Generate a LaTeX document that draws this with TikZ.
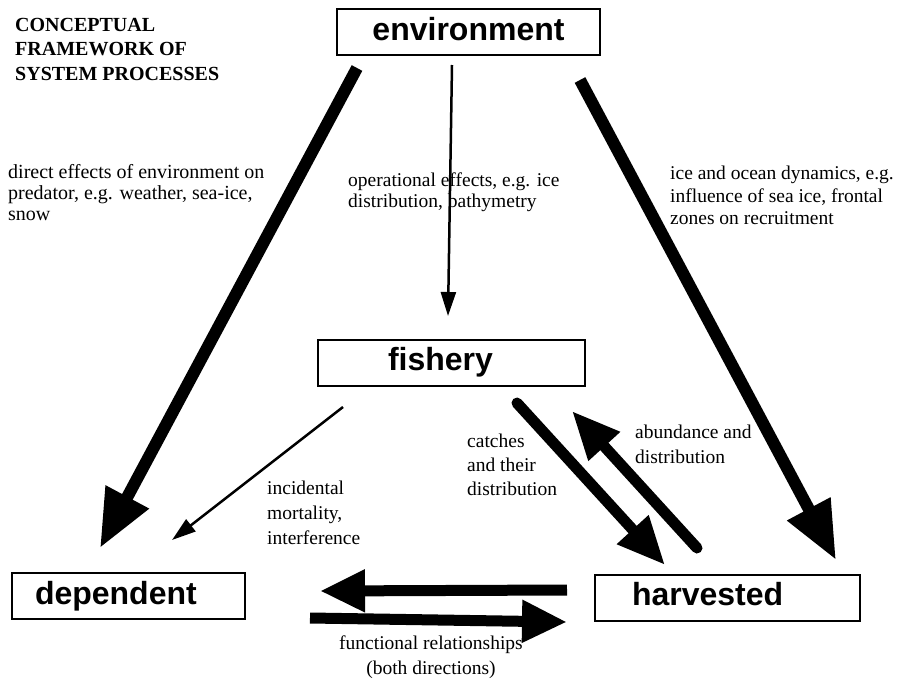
\documentclass[tikz,border=0pt]{standalone}
\usepackage{fontspec}
\setmainfont{Liberation Serif}
\newfontfamily\boxfont{Liberation Sans}
\usetikzlibrary{arrows.meta}

\begin{document}
\begin{tikzpicture}[x=1pt, y=-1pt,
  boxnode/.style={draw, line width=2pt, font=\boxfont\bfseries\fontsize{32}{36}\selectfont,
    inner ysep=0pt, minimum height=46pt, text height=23pt, text depth=7pt},
  labeltext/.style={font=\fontsize{19.5}{#1}\selectfont, align=left, anchor=north west, inner sep=0pt},
  labeltext/.default=24pt,
  bigarrow/.style={line width=12pt, -{Triangle[length=58pt,width=46pt]}},
  midarrow/.style={line width=11pt, line cap=round, -{Triangle[length=48pt,width=40pt]}},
  flatarrow/.style={line width=11pt, -{Triangle[length=45pt,width=40pt]}},
  thinarrow/.style={line width=2.5pt, -{Triangle[length=24pt,width=15pt]}}]
\useasboundingbox (0,0) rectangle (903,686);

% Boxes
\node[boxnode, minimum width=263pt] (environment) at (468.5,32) {environment};
\node[boxnode, inner xsep=70pt, text width=127pt] (fishery) at (451.5,362.5) {fishery};
\node[boxnode, inner xsep=23pt, text width=187pt] (dependent) at (128.5,596) {dependent};
\node[boxnode, inner xsep=37pt, text width=191pt] (harvested) at (727.5,597.5) {harvested};

% Arrow ends
\coordinate (envdep1) at (357,68);   \coordinate (envdep2) at (100,548);
\coordinate (envhar1) at (580,80);   \coordinate (envhar2) at (836,560);
\coordinate (envfis1) at (452,65);   \coordinate (envfis2) at (448,316);
\coordinate (fisdep1) at (343,407);  \coordinate (fisdep2) at (172,540);
\coordinate (fishar1) at (517,403);  \coordinate (fishar2) at (665,565);
\coordinate (harfis1) at (697,548);  \coordinate (harfis2) at (572,411);
\coordinate (hardep1) at (567,590);  \coordinate (hardep2) at (320,591);
\coordinate (depful1) at (310,618);  \coordinate (depful2) at (567,622);

% Connectors
\draw[bigarrow] (envdep1) -- (envdep2);
\draw[bigarrow] (envhar1) -- (envhar2);
\draw[thinarrow] (envfis1) -- (envfis2);
\draw[thinarrow] (fisdep1) -- (fisdep2);
\draw[midarrow] (fishar1) -- (fishar2);
\draw[midarrow] (harfis1) -- (harfis2);
\draw[flatarrow] (hardep1) -- (hardep2);
\draw[flatarrow] (depful1) -- (depful2);

% Labels
\node[labeltext=24.5pt, font=\bfseries\fontsize{20}{24.5}\selectfont] (title) at (15,18)
  {CONCEPTUAL\\FRAMEWORK OF\\SYSTEM PROCESSES};
\node[labeltext=21pt, font=\fontsize{20}{21}\selectfont] (directlbl) at (8,164)
  {direct effects of environment on\\predator, e.g. weather, sea-ice,\\snow};
\node[labeltext=21pt] (operlbl) at (348,173)
  {operational effects, e.g. ice\\distribution, bathymetry};
\node[labeltext=22.5pt] (oceanlbl) at (670,166)
  {ice and ocean dynamics, e.g.\\influence of sea ice, frontal\\zones on recruitment};
\node[labeltext=25pt] (incidlbl) at (267,481)
  {incidental\\mortality,\\interference};
\node[labeltext=24pt] (catchlbl) at (467,434)
  {catches\\and their\\distribution};
\node[labeltext=25pt] (abundlbl) at (635,425)
  {abundance and\\distribution};
\node[labeltext=25pt, align=center, anchor=north] (funclbl) at (431,636)
  {functional relationships\\(both directions)};

\end{tikzpicture}
\end{document}
